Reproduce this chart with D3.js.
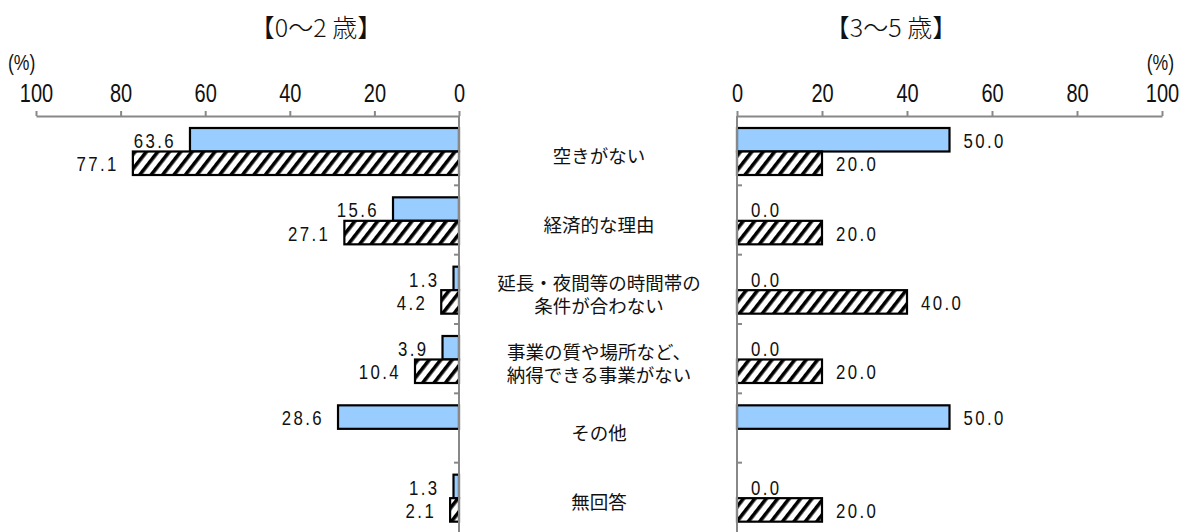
<!DOCTYPE html>
<html lang="ja">
<head>
<meta charset="utf-8">
<title>利用しない理由</title>
<script src="https://d3js.org/d3.v7.min.js"></script>
<style>
  body { margin: 0; background: #fff; }
  .num { font-family: "Liberation Sans", Arial, sans-serif; fill: #111; }
  .jp { font-family: "Noto Sans CJK JP", sans-serif; fill: #111; }
</style>
</head>
<body>
<script>
const width = 1181, height = 532;

// data
const categories = ["空きがない", "経済的な理由", "延長・夜間等の時間帯の\n条件が合わない",
                    "事業の質や場所など、\n納得できる事業がない", "その他", "無回答"];
const seriesNames = ["A", "B"];
const left_A = [63.6, 15.6, 1.3, 3.9, 28.6, 1.3];
const left_B = [77.1, 27.1, 4.2, 10.4, null, 2.1];
const right_A = [50.0, 0.0, 0.0, 0.0, 50.0, 0.0];
const right_B = [20.0, 20.0, 40.0, 20.0, null, 20.0];
const ticks = [0, 20, 40, 60, 80, 100];

const narrow = 0.8; // squeeze numbers horizontally, like the original's condensed digits

const svg = d3.select("body").append("svg")
    .attr("width", width).attr("height", height);

const defs = svg.append("defs");
const pat = defs.append("pattern")
    .attr("id", "hatch")
    .attr("patternUnits", "userSpaceOnUse")
    .attr("width", 9).attr("height", 9)
    .attr("patternTransform", "rotate(38)");
pat.append("rect").attr("width", 9).attr("height", 9).attr("fill", "#fff");
pat.append("rect").attr("x", 0).attr("y", 0).attr("width", 3.6).attr("height", 9).attr("fill", "#000");

const y = d3.scaleBand().domain(categories).range([116, 532]);
const sub = d3.scaleBand().domain(seriesNames).range([12, 59]);

const xL = d3.scaleLinear().domain([0, 100]).range([459, 36]);
const xR = d3.scaleLinear().domain([0, 100]).range([737, 1162]);

function panel(x, valsA, valsB, side) {
  const g = svg.append("g");
  const rows = [];
  categories.forEach((c, i) => {
    rows.push({cat: c, s: "A", v: valsA[i]});
    if (valsB[i] != null) rows.push({cat: c, s: "B", v: valsB[i]});
  });

  g.selectAll("rect.bar").data(rows).enter().append("rect")
    .attr("class", "bar")
    .attr("x", d => Math.min(x(0), x(d.v)))
    .attr("y", d => y(d.cat) + sub(d.s))
    .attr("width", d => Math.abs(x(d.v) - x(0)))
    .attr("height", sub.bandwidth())
    .attr("fill", d => d.s === "A" ? "#99ccff" : "url(#hatch)")
    .attr("stroke", "#000")
    .attr("stroke-width", 2.2);

  g.selectAll("text.val").data(rows).enter().append("text")
    .attr("class", "num")
    .attr("transform", d => {
      const tx = side === "left" ? x(d.v) - 14 : x(d.v) + 14;
      const ty = y(d.cat) + sub(d.s) + sub.bandwidth() / 2 + 1;
      return `translate(${tx},${ty}) scale(${narrow},1)`;
    })
    .attr("dominant-baseline", "central")
    .attr("text-anchor", side === "left" ? "end" : "start")
    .attr("font-size", "21px")
    .attr("letter-spacing", "3px")
    .text(d => d.v.toFixed(1));

  // value axis on top
  const ax = d3.axisTop(x).tickValues(ticks).tickSize(5).tickSizeOuter(0).tickPadding(9)
    .tickFormat(d3.format("d"));
  const ga = g.append("g").attr("transform", "translate(0,116)").call(ax);
  ga.select(".domain").attr("stroke", "#888").attr("stroke-width", 2);
  ga.selectAll(".tick line").attr("stroke", "#888").attr("stroke-width", 2);
  ga.selectAll(".tick text").attr("class", "num").attr("font-size", "25px").attr("fill", "#111")
    .attr("transform", `scale(${narrow},1)`);

  // category axis at zero
  const cx = x(0);
  g.append("line").attr("x1", cx).attr("x2", cx).attr("y1", 116).attr("y2", 532)
    .attr("stroke", "#888").attr("stroke-width", 2);
  const bounds = categories.slice(1).map(c => y(c));
  g.selectAll("line.ct").data(bounds).enter().append("line")
    .attr("x1", cx).attr("x2", side === "left" ? cx - 5 : cx + 5)
    .attr("y1", d => d).attr("y2", d => d)
    .attr("stroke", "#888").attr("stroke-width", 2);
}

panel(xL, left_A, left_B, "left");
panel(xR, right_A, right_B, "right");

// category labels in the middle
const labels = svg.append("g");
categories.forEach(c => {
  const lines = c.split("\n");
  const cy = y(c) + y.bandwidth() / 2 + 4;
  const t = labels.append("text").attr("class", "jp")
    .attr("text-anchor", "middle")
    .attr("dominant-baseline", "central")
    .attr("font-size", "18.5px");
  lines.forEach((ln, j) => {
    t.append("tspan")
      .attr("x", 599)
      .attr("y", cy + (j - (lines.length - 1) / 2) * 23)
      .text(ln);
  });
});

// titles
svg.append("text").attr("class", "jp").attr("x", 316).attr("y", 26)
  .attr("text-anchor", "middle").attr("dominant-baseline", "central")
  .attr("font-size", "25px").attr("font-weight", 300).text("【0〜2 歳】");
svg.append("text").attr("class", "jp").attr("x", 891).attr("y", 26)
  .attr("text-anchor", "middle").attr("dominant-baseline", "central")
  .attr("font-size", "25px").attr("font-weight", 300).text("【3〜5 歳】");

svg.append("text").attr("class", "num")
  .attr("transform", `translate(8,62) scale(${narrow},1)`)
  .attr("dominant-baseline", "central").attr("font-size", "22px").text("(%)");
svg.append("text").attr("class", "num")
  .attr("transform", `translate(1174,62) scale(${narrow},1)`)
  .attr("text-anchor", "end").attr("dominant-baseline", "central")
  .attr("font-size", "22px").text("(%)");
</script>
</body>
</html>
